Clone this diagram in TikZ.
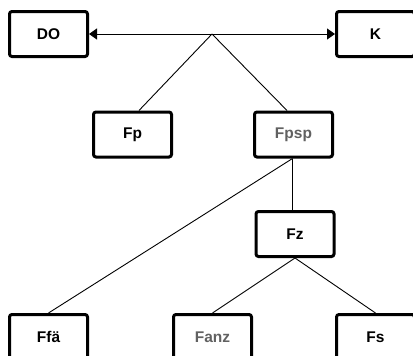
\documentclass[tikz,border=0pt]{standalone}
\usepackage{fontspec}
\setmainfont{Liberation Sans}
\usetikzlibrary{arrows.meta}
\begin{document}
\begin{tikzpicture}[x=1pt,y=-1pt,
  box/.style={draw, line width=3pt, rounded corners=2.5pt, minimum width=78pt, minimum height=45pt, inner sep=0pt, font=\fontsize{15.5}{18}\selectfont\bfseries},
  graytext/.style={text=black!62},
  link/.style={line width=0.9pt}]
\useasboundingbox (0,0) rectangle (413,356);
\clip (0,0) rectangle (413,356);
\node[box] (DO) at (48.5,34) {DO};
\node[box] (K) at (375.5,34) {K};
\node[box] (Fp) at (132.5,134.5) {Fp};
\node[box,graytext] (Fpsp) at (293.5,134.5) {Fpsp};
\node[box] (Fz) at (295,234) {Fz};
\node[box] (Ffa) at (48.5,337) {Ffä};
\node[box,graytext] (Fanz) at (212.5,337) {Fanz};
\node[box] (Fs) at (375.5,337) {Fs};
\coordinate (J) at (212,34);
\draw[link, {Triangle[length=8pt,width=11pt]}-{Triangle[length=8pt,width=11pt]}] (DO.east) -- (K.west);
\draw[link] (J) -- ([xshift=6.5pt]Fp.north);
\draw[link] (J) -- ([xshift=-6.5pt]Fpsp.north);
\draw[link] ([xshift=-1pt]Fpsp.south) -- (Ffa.north);
\draw[link] ([xshift=-1pt]Fpsp.south) -- ([xshift=-1pt]Fpsp.south |- Fz.north);
\draw[link] (Fz.south) -- (Fanz.north);
\draw[link] (Fz.south) -- (Fs.north);
\end{tikzpicture}
\end{document}
